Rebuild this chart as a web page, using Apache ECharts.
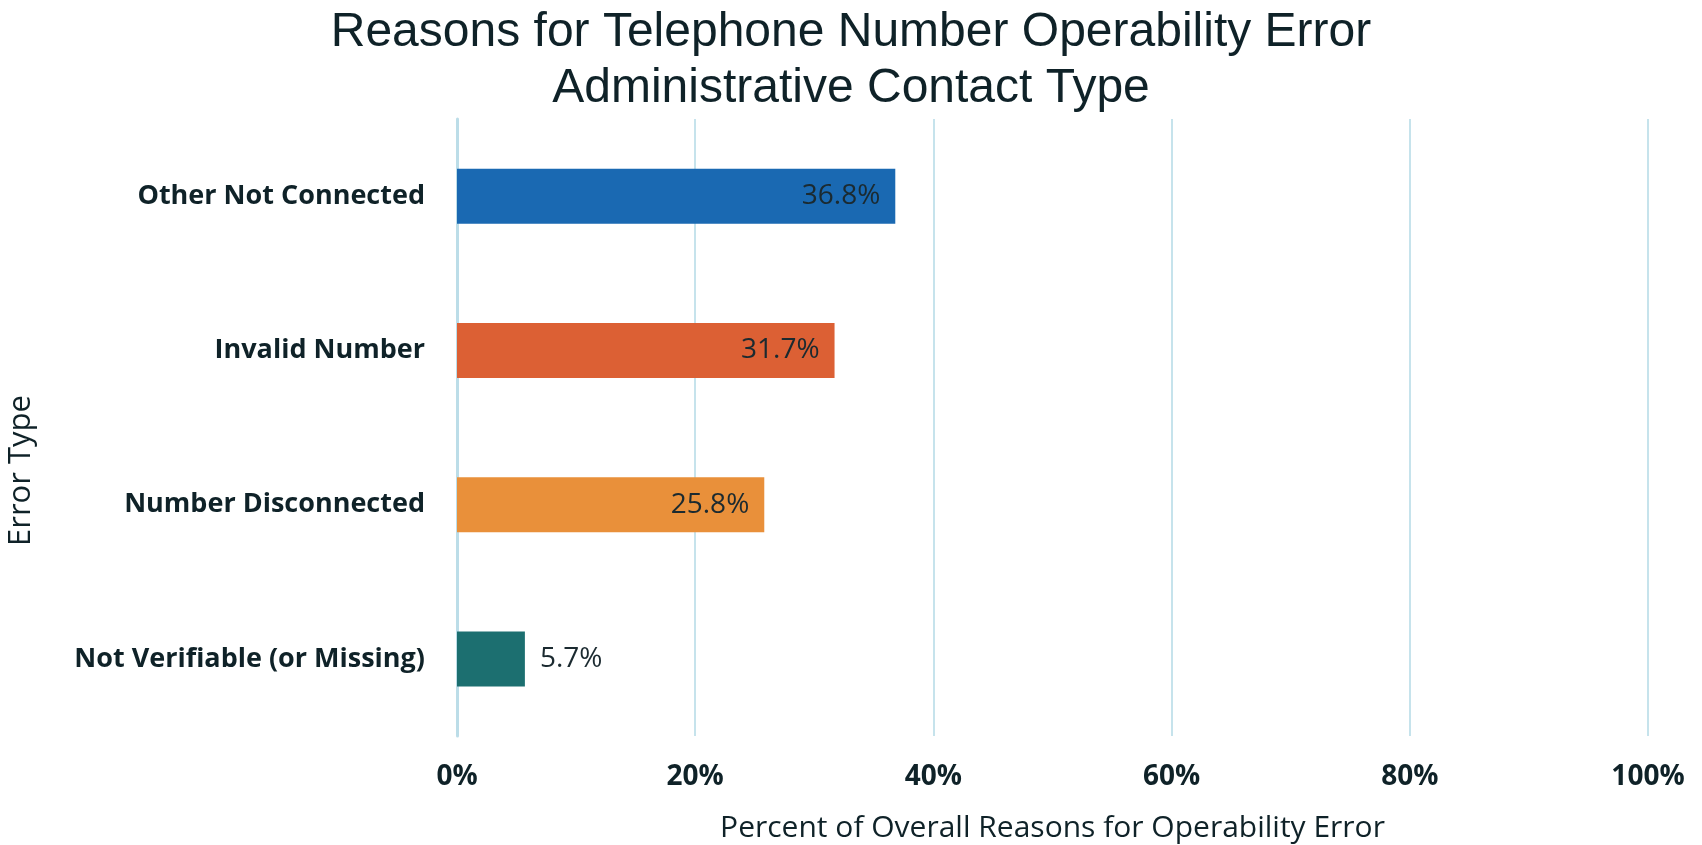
<!DOCTYPE html>
<html>
<head>
<meta charset="UTF-8">
<title>Reasons for Telephone Number Operability Error</title>
<script type="text/javascript" src="https://cdn.jsdelivr.net/npm/echarts@6/dist/echarts.min.js"></script>
<style>
  html, body { margin: 0; padding: 0; background: #fff; }
</style>
</head>
<body>
<div id="main" style="width:1702px;height:845px"></div>
<script type="text/javascript">
	// data
	var categories = ['Other Not Connected', 'Invalid Number', 'Number Disconnected', 'Not Verifiable (or Missing)'];
	var values = [36.8, 31.7, 25.8, 5.7];
	var barColors = ['#1a69b2', '#dc6034', '#e9903a', '#1c6f70'];
	var tickValues = [0, 20, 40, 60, 80, 100];

	var textColor = '#0f2228';
	var gridColor = '#c6e3ec';

	var myEcharts = echarts.init(document.getElementById('main'));

	var barData = values.map(function (v, i) {
		var small = v < 10; // label would not fit inside the bar
		return {
			value: v,
			itemStyle: { color: barColors[i] },
			label: {
				position: small ? 'right' : 'insideRight',
				distance: 15
			}
		};
	});

	var option = {
		animation: false,
		title: {
			text: 'Reasons for Telephone Number Operability Error\nAdministrative Contact Type',
			left: 'center',
			top: 0,
			textStyle: {
				fontFamily: 'Liberation Sans',
				fontWeight: 'normal',
				fontSize: 48,
				lineHeight: 56,
				color: textColor
			}
		},
		grid: {
			left: 457,
			right: 54,
			top: 119,
			bottom: 109,
			outerBoundsMode: 'none'
		},
		xAxis: {
			type: 'value',
			min: tickValues[0],
			max: tickValues[tickValues.length - 1],
			interval: 20,
			name: 'Percent of Overall Reasons for Operability Error',
			nameLocation: 'middle',
			nameGap: 77,
			nameTextStyle: {
				fontFamily: 'Open Sans',
				fontSize: 30,
				color: textColor
			},
			axisLine: { show: false },
			axisTick: { show: false },
			axisLabel: {
				formatter: '{value}%',
				margin: 27,
				fontFamily: 'Open Sans',
				fontWeight: 'bold',
				fontSize: 28,
				color: textColor
			},
			splitLine: {
				lineStyle: { color: gridColor, width: 2 }
			}
		},
		yAxis: {
			type: 'category',
			inverse: true,
			data: categories,
			name: 'Error Type',
			nameLocation: 'middle',
			nameGap: 420,
			nameRotate: 90,
			nameTextStyle: {
				fontFamily: 'Open Sans',
				fontSize: 31,
				color: textColor,
				padding: [0, 86, 0, 0]
			},
			axisLine: {
				show: true,
				lineStyle: { color: '#bcdde8', width: 3 }
			},
			axisTick: { show: false },
			axisLabel: {
				margin: 32,
				fontFamily: 'Open Sans',
				fontWeight: 'bold',
				fontSize: 27,
				color: textColor
			}
		},
		series: [
			{
				type: 'bar',
				barWidth: 55,
				data: barData,
				label: {
					show: true,
					formatter: function (p) { return p.value.toFixed(1) + '%'; },
					fontFamily: 'Open Sans',
					fontSize: 28,
					color: '#1b2a30'
				}
			}
		]
	};

	myEcharts.setOption(option);
</script>
</body>
</html>
